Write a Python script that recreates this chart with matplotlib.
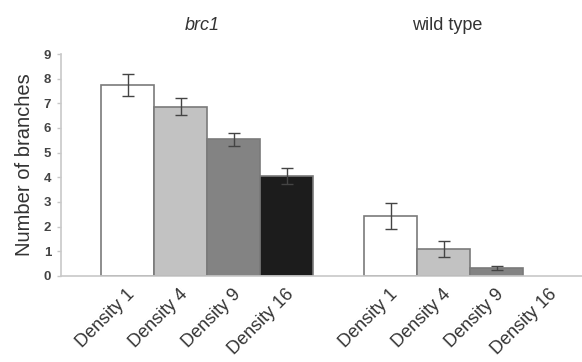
import matplotlib
matplotlib.use("Agg")
import matplotlib.pyplot as plt
import numpy as np

plt.rcParams['font.family'] = ['Liberation Sans', 'DejaVu Sans']

densities = ["Density 1", "Density 4", "Density 9", "Density 16"]
groups = ["brc1", "wild type"]
brc1_vals = [7.75, 6.87, 5.54, 4.05]
brc1_err = [0.45, 0.35, 0.25, 0.33]
wt_vals = [2.43, 1.10, 0.33, 0.0]
wt_err = [0.53, 0.33, 0.07, 0.0]
colors = ["#ffffff", "#c2c2c2", "#838383", "#1c1c1c"]
yticks = list(range(0, 10))

fig = plt.figure(figsize=(5.82, 3.62), dpi=100)
ax = fig.add_axes([61/582, 1-276/362, 1-61/582, (276-54)/362])

x_brc = np.arange(4)
x_wt = np.arange(4) + 4.96
edge = "#7a7a7a"
ax.bar(x_brc, brc1_vals, width=1.0, color=colors, edgecolor=edge, linewidth=1.2, zorder=2)
ax.bar(x_wt[:3], wt_vals[:3], width=1.0, color=colors[:3], edgecolor=edge, linewidth=1.2, zorder=2)
ax.errorbar(x_brc, brc1_vals, yerr=brc1_err, fmt='none', ecolor="#444444",
            elinewidth=1.0, capsize=4, capthick=1.0, zorder=3)
ax.errorbar(x_wt[:3], wt_vals[:3], yerr=wt_err[:3], fmt='none', ecolor="#444444",
            elinewidth=1.0, capsize=4, capthick=1.0, zorder=3)

ax.set_xlim(-1.26, 8.57)
ax.set_ylim(0, 9)
ax.set_yticks(yticks)
ax.set_yticklabels([str(t) for t in yticks], fontsize=9.5, color="#444444", fontweight='bold')
ax.tick_params(axis='y', length=3, width=1, color="#c8c8c8", pad=4)
ax.tick_params(axis='x', length=0, pad=7)

xt = np.concatenate([x_brc, x_wt])
ax.set_xticks(xt - 0.03)
ax.set_xticklabels(densities + densities, rotation=45, ha='right', va='top',
                   rotation_mode='anchor', fontsize=13, color="#333333")

for s in ['top', 'right']:
    ax.spines[s].set_visible(False)
for s in ['left', 'bottom']:
    ax.spines[s].set_color("#c8c8c8")
    ax.spines[s].set_linewidth(1.2)

ax.set_ylabel("Number of branches", fontsize=14.5, color="#333333", labelpad=7)

ax.text(1.4, 10.15, groups[0], fontsize=13, style='italic', color="#333333",
        ha='center', va='center', transform=ax.transData)
ax.text(6.02, 10.15, groups[1], fontsize=13, color="#333333",
        ha='center', va='center', transform=ax.transData)

fig.savefig("out.png", dpi=100)
